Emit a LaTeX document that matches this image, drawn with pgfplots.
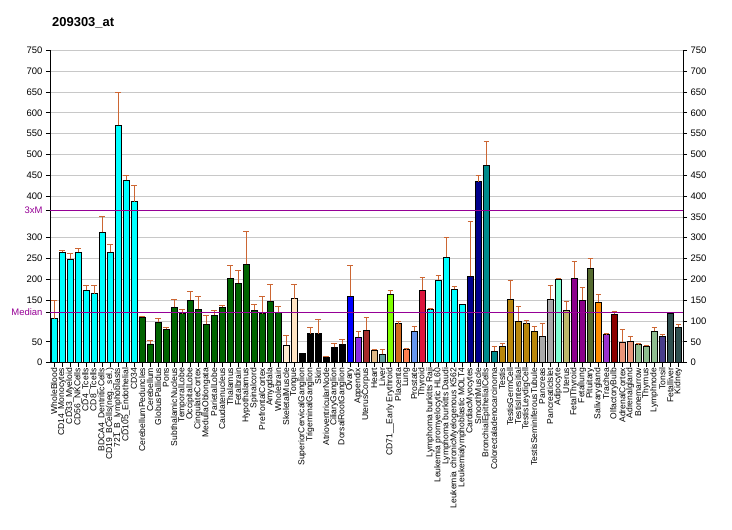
\documentclass[border=0pt]{standalone}
\usepackage{fontspec}
\setmainfont{Liberation Sans}
\usepackage{pgfplots}
\pgfplotsset{compat=1.18}

\definecolor{errc}{RGB}{204,102,51}
\definecolor{mpurple}{RGB}{150,0,150}
\definecolor{gridc}{RGB}{200,200,200}
\definecolor{cCyan}{RGB}{0,255,255}
\definecolor{cDkGreen}{RGB}{0,100,0}
\definecolor{cBlanched}{RGB}{255,235,205}
\definecolor{cBisque}{RGB}{255,228,196}
\definecolor{cBlue}{RGB}{0,0,255}
\definecolor{cBlueViolet}{RGB}{138,43,226}
\definecolor{cBrown}{RGB}{165,42,42}
\definecolor{cBurly}{RGB}{222,184,135}
\definecolor{cCadet}{RGB}{95,158,160}
\definecolor{cChart}{RGB}{127,255,0}
\definecolor{cChoc}{RGB}{210,105,30}
\definecolor{cCoral}{RGB}{255,127,80}
\definecolor{cCorn}{RGB}{100,149,237}
\definecolor{cCrimson}{RGB}{220,20,60}
\definecolor{cDkBlue}{RGB}{0,0,139}
\definecolor{cDkCyan}{RGB}{0,139,139}
\definecolor{cDkGold}{RGB}{184,134,11}
\definecolor{cDkGray}{RGB}{169,169,169}
\definecolor{cAqua}{RGB}{127,255,212}
\definecolor{cDkKhaki}{RGB}{189,183,107}
\definecolor{cDkMag}{RGB}{139,0,139}
\definecolor{cDkOlive}{RGB}{85,107,47}
\definecolor{cDkOrange}{RGB}{255,140,0}
\definecolor{cDkOrchid}{RGB}{153,50,204}
\definecolor{cDkRed}{RGB}{139,0,0}
\definecolor{cDkSalmon}{RGB}{233,150,122}
\definecolor{cDkSea}{RGB}{143,188,143}
\definecolor{cDkSlBlue}{RGB}{72,61,139}
\definecolor{cDkSlGray}{RGB}{47,79,79}

\pgfplotsset{
  common/.style={
    width=633bp, height=312.4bp, scale only axis,
    xmin=0.5, xmax=79.6, ymin=0, ymax=750,
    at={(50bp,167.3bp)}, anchor=south west,
    tick align=outside, major tick length=4bp,
    every tick/.style={black, line width=0.8bp},
    axis line style={black, line width=0.9bp},
    /pgf/number format/assume math mode=true,
    tick label style={font=\fontsize{9.5}{10}\selectfont},
  },
  nb/.style={ybar, bar width=6bp, bar shift=0pt, draw=black, line width=0.8bp, fill=#1},
  gb/.style={nb=#1,
    error bars/.cd, y dir=plus, y explicit,
    error bar style={errc, line width=0.8bp},
    error mark options={errc, rotate=90, mark size=2.6bp, line width=0.8bp}},
}

\begin{document}
\begin{tikzpicture}
\useasboundingbox (0,0) rectangle (732bp,530bp);
\node[anchor=base west, font=\bfseries\fontsize{13}{14}\selectfont, inner sep=0pt]
  at (52bp,503bp) {209303\_at};

% grid and right-hand scale
\begin{axis}[common,
  axis x line=none, axis y line*=right,
  xtick=\empty,
  ytick={0,50,...,750},
  ymajorgrids, grid style={gridc, line width=0.8bp},
]
\addplot[draw=none] coordinates {(1,0)};
\end{axis}

% bars
\begin{axis}[common,
  axis x line*=bottom, axis y line*=left,
  xtick={1,...,79},
  xticklabels={WholeBlood, CD14\_Monocytes, CD33\_Myeloid, CD56\_NKCells, CD4\_Tcells, CD8\_Tcells,
    BDCA4\_DentriticCells, CD19\_BCells(neg.\_sel.), 721\_B\_lymphoblasts, CD105\_Endothelial, CD34,
    CerebellumPeduncles, Cerebellum, GlobusPallidus, Pons, SubthalamicNucleus, TemporalLobe,
    OccipitalLobe, CingulateCortex, MedullaOblongata, ParietalLobe, Caudatenucleus, Thalamus,
    Fetalbrain, Hypothalamus, Spinalcord, PrefrontalCortex, Amygdala, Wholebrain, SkeletalMuscle,
    Tongue, SuperiorCervicalGanglion, TrigeminalGanglion, Skin, AtrioventricularNode,
    CiliaryGanglion, DorsalRootGanglion, Ovary, Appendix, UterusCorpus, Heart, Liver,
    CD71\_\_Early Erythroid, Placenta, Lung, Prostate, Thyroid, Lymphoma burkitts Raji,
    Leukemia promyelocytic HL60, Lymphoma burkitts Daudi, Leukemia chronicMyelogenous K562,
    Leukemialymphoblastic MOLT4, CardiacMyocytes, SmoothMuscle, BronchialEpithelialCells,
    Colorectaladenocarcinoma, Testis, TestisGermCell, TestisIntersitial, TestisLeydigCell,
    TestisSeminiferousTubule, Pancreas, PancreaticIslet, Adipocyte, Uterus, FetalThyroid,
    Fetallung, Pituitary, Salivarygland, Trachea, OlfactoryBulb, AdrenalCortex, Adrenalgland,
    Bonemarrow, Thymus, Lymphnode, Tonsil, Fetalliver, Kidney},
  x tick label style={rotate=90, anchor=east, font=\fontsize{8.6}{9}\selectfont, inner sep=1bp, xshift=0bp},
  ytick={0,50,150,200,250,300,400,450,500,550,600,650,700,750},
  extra y ticks={121,366},
  extra y tick labels={Median,3xM},
  extra y tick style={yticklabel style={text=mpurple}},
]
\addplot[gb=cCyan] coordinates {
  (1,106) +- (0,44) (2,265) +- (0,5) (3,248) +- (0,15) (4,265) +- (0,10)
  (5,174) +- (0,12) (6,166) +- (0,20) (7,313) +- (0,38) (8,265) +- (0,19)
  (9,570) +- (0,79) (10,438) +- (0,12) (11,387) +- (0,39)
  (48,128) +- (0,2) (49,198) +- (0,12) (50,253) +- (0,48) (51,176) +- (0,7)};
\addplot[nb=cCyan] coordinates {(52,140)};
\addplot[gb=cDkGreen] coordinates {
  (12,109) +- (0,2) (13,45) +- (0,9) (14,97) +- (0,9) (15,80) +- (0,5)
  (16,133) +- (0,19) (17,118) +- (0,10) (18,150) +- (0,21) (19,128) +- (0,31)
  (20,92) +- (0,22) (21,114) +- (0,12) (22,133) +- (0,5) (23,203) +- (0,31)
  (24,191) +- (0,31) (25,236) +- (0,79) (26,126) +- (0,14) (27,118) +- (0,41)
  (28,147) +- (0,41) (29,121) +- (0,14)};
\addplot[gb=cBlanched] coordinates {(30,42) +- (0,24)};
\addplot[gb=cBisque] coordinates {(31,154) +- (0,34)};
\addplot[nb=black] coordinates {(32,22)};
\addplot[gb=black] coordinates {
  (33,70) +- (0,15) (34,70) +- (0,34) (35,13) +- (0,2) (36,37) +- (0,9) (37,44) +- (0,12)};
\addplot[gb=cBlue] coordinates {(38,159) +- (0,75)};
\addplot[gb=cBlueViolet] coordinates {(39,61) +- (0,14)};
\addplot[gb=cBrown] coordinates {(40,78) +- (0,31)};
\addplot[gb=cBurly] coordinates {(41,30) +- (0,2)};
\addplot[gb=cCadet] coordinates {(42,20) +- (0,12)};
\addplot[gb=cChart] coordinates {(43,164) +- (0,10)};
\addplot[gb=cChoc] coordinates {(44,94) +- (0,5)};
\addplot[gb=cCoral] coordinates {(45,32) +- (0,2)};
\addplot[gb=cCorn] coordinates {(46,75) +- (0,12)};
\addplot[gb=cCrimson] coordinates {(47,174) +- (0,31)};
\addplot[gb=cDkBlue] coordinates {(53,207) +- (0,132) (54,435) +- (0,15)};
\addplot[gb=cDkCyan] coordinates {(55,474) +- (0,57) (56,27) +- (0,12)};
\addplot[gb=cDkGold] coordinates {
  (57,39) +- (0,7) (58,152) +- (0,46) (59,99) +- (0,36) (60,94) +- (0,8) (61,75) +- (0,12)};
\addplot[gb=cDkGray] coordinates {(62,63) +- (0,31) (63,152) +- (0,34)};
\addplot[gb=cAqua] coordinates {(64,200) +- (0,3)};
\addplot[gb=cDkKhaki] coordinates {(65,126) +- (0,21)};
\addplot[gb=cDkMag] coordinates {(66,203) +- (0,40) (67,150) +- (0,31)};
\addplot[gb=cDkOlive] coordinates {(68,227) +- (0,24)};
\addplot[gb=cDkOrange] coordinates {(69,145) +- (0,19)};
\addplot[gb=cDkOrchid] coordinates {(70,68) +- (0,2)};
\addplot[gb=cDkRed] coordinates {(71,116) +- (0,7)};
\addplot[gb=cDkSalmon] coordinates {(72,49) +- (0,31) (73,51) +- (0,12)};
\addplot[gb=cDkSea] coordinates {(74,44) +- (0,2) (75,39) +- (0,3) (76,75) +- (0,10)};
\addplot[gb=cDkSlBlue] coordinates {(77,63) +- (0,5)};
\addplot[nb=cDkSlGray] coordinates {(78,118)};
\addplot[gb=cDkSlGray] coordinates {(79,85) +- (0,7)};
% median and 3x median
\addplot[mpurple, line width=1bp] coordinates {(0.5,121) (79.6,121)};
\addplot[mpurple, line width=1bp] coordinates {(0.5,366) (79.6,366)};
\end{axis}
\end{tikzpicture}
\end{document}
